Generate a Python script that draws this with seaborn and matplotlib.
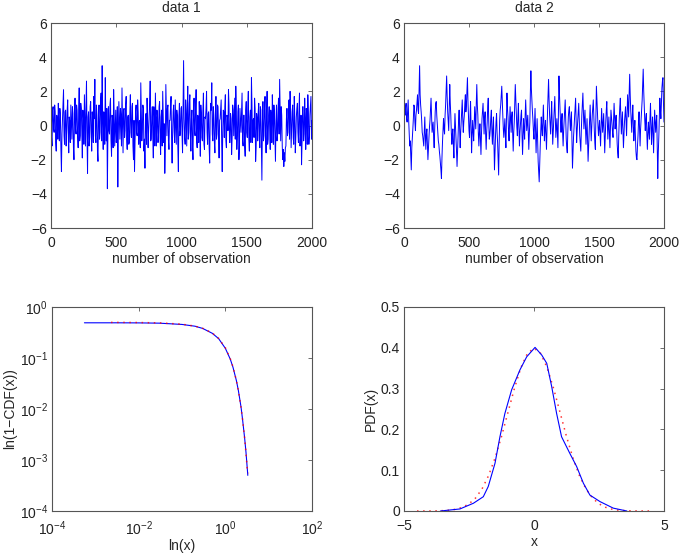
import numpy as np
import matplotlib
matplotlib.use("Agg")
import matplotlib.pyplot as plt
import seaborn as sns

data1 = [
    0.5, -1.2, 1.1, -0.4, 0.8, -1.5, 0.3, 1.3, -0.9, 0.6, -2.7, 0.4, 2.1, -1.1, 0.9, -0.3, 1.5, -1.6, 0.2, 1.2, -0.8, 0.7, -2.0, 1.6, -0.5,
    0.9, -1.3, 2.2, -0.6, 1.0, -1.9, 0.4, 1.8, -1.2, 2.6, -2.8, 0.8, -0.7, 1.4, -1.5, 0.3, 1.7, 2.7, -1.0, 0.6, -2.1, 1.2, -0.4, 1.9, 3.5,
    -1.4, 0.7, 2.8, -0.9, -3.7, 1.1, -0.5, 1.6, -1.8, 0.4, 2.1, -1.2, 0.9, -0.6, -3.6, 1.4, -0.8, 0.5, 2.2, -1.6, 1.0, -0.3, 1.7, -1.4, 0.6,
    -1.0, 1.8, -0.7, 1.3, -2.0, -2.7, 0.8, -0.4, 1.5, -1.1, 0.3, 2.5, -0.9, 1.2, -1.5, -2.5, 0.7, 1.6, -1.3, 0.4, 2.6, -0.8, 1.1, -1.9, 0.5,
    1.9, -1.2, 0.6, -0.5, 1.4, -1.7, 0.9, 2.0, -1.0, -2.8, 2.4, -0.6, 1.2, -1.4, 0.3, 1.7, -2.2, 0.8, -0.4, 1.5, -1.1, 0.6, -2.7, 1.3, -0.3,
    1.1, -1.6, 3.8, -0.7, 1.5, -1.2, 2.3, -0.4, 1.8, -1.5, 0.9, -2.0, 1.6, -0.6, 2.1, -1.3, 0.5, 1.4, -1.8, 0.7, -0.9, 1.9, -1.4, 0.4, 2.0,
    -1.1, 0.8, -2.2, 1.3, 2.5, -0.9, 0.6, -1.6, 1.7, -0.5, 1.1, -1.9, 0.4, 1.5, -2.7, 0.9, -0.7, 1.8, -1.3, 0.5, 2.1, -1.0, 0.7, -1.7, 1.2,
    -0.6, 1.6, 2.3, -1.4, 0.8, -2.0, 1.0, -0.4, 1.9, -1.2, 0.6, -1.8, 1.4, -0.7, 2.0, -1.5, 0.9, 2.8, -1.0, 0.4, 1.6, -2.1, 0.7, -0.9, 1.3,
    -1.3, 0.9, -3.2, 1.4, -0.6, 1.7, -1.6, 2.0, -0.8, 1.1, -1.4, 0.5, 1.8, -1.1, 0.7, -2.1, 1.2, -0.5, 1.6, 2.7, -0.9, 0.6, -2.0, -2.4, -2.1,
    -1.2, 1.0, -0.4, 1.5, 2.0, -1.3, 0.8, -0.7, 1.7, -1.6, 0.5, 1.3, -1.0, 1.9, -0.6, -2.3, 1.1, -0.9, 1.6, -1.4, 0.7, 1.8, -1.1, 0.6, 1.7,
    0.3,
]
# in-between observations (x = 4, 12, ..., 1996)
data1_mid = [
    -0.7, 0.9, -0.2, 1.2, -1.0, 0.6, -0.8, -0.1, 1.0, -1.4, -0.5, 1.3, -0.6, 0.8, -1.2, 0.9, -0.4, 0.5, -1.0, 0.1, 1.1, -1.3, 0.4, -0.2, 1.2,
    -0.6, 0.7, -0.9, 1.3, -0.3, 0.9, -1.1, 0.2, 1.0, -0.7, 0.5, -1.2, 1.1, -0.4, 0.8, -1.0, 0.4, -0.6, 1.2, -1.5, 0.6, -0.8, 1.4, -0.9, 0.3,
    0.8, -1.1, 0.2, 1.0, -0.6, -0.3, 1.2, -0.9, 0.6, -1.3, 0.7, -0.2, -1.0, 1.1, -0.5, 0.3, 1.0, -1.2, 0.4, 0.9, -0.7, 1.2, -0.8, 0.5, -1.1,
    0.6, -0.4, 1.1, -1.2, 0.3, -0.9, 1.2, -0.6, 0.8, 0.2, -1.3, 0.9, -0.2, 1.0, -0.8, 0.4, -1.1, 0.7, -0.3, 1.3, -0.9, 0.5, -0.6, 1.1, -1.2,
    0.2, 0.9, -1.0, 1.1, -0.7, 0.5, -1.2, 0.6, 0.1, -1.4, 0.8, 1.0, -0.9, 0.3, 1.1, -0.8, -0.4, 1.2, -1.0, 0.2, 0.9, -1.3, 0.5, -0.6, 1.0,
    -0.5, 1.2, 0.4, -1.1, 0.7, 0.9, -0.8, 1.3, -0.6, 0.4, -1.2, 0.8, -0.3, 1.1, -0.9, 0.6, -1.0, 0.3, 1.2, -0.7, 0.9, -1.1, 0.5, 1.0, -0.4,
    0.7, -1.3, 0.6, 0.9, -0.5, 1.1, -1.0, 0.4, -0.8, 1.2, -0.6, 0.3, 1.0, -1.1, -0.4, 0.8, 1.1, -0.9, 0.6, -0.3, 1.2, -1.0, 0.4, -0.7, 0.9,
    0.5, -0.8, 1.0, -0.6, 1.2, -1.1, 0.3, 0.8, -0.9, 0.6, -1.2, 0.9, -0.4, 1.1, -0.8, 0.5, -1.0, 1.2, 0.3, -0.7, 1.0, -1.3, 0.4, 0.8, -0.6,
    1.1, -1.2, 0.2, -0.9, 1.0, -0.4, 0.8, -1.1, 0.6, -0.3, 0.9, -1.0, 0.5, 1.2, -0.7, 0.3, -0.9, 1.0, -0.5, 0.8, 1.1, -1.2, -1.4, -1.6, -1.3,
    0.4, -0.6, 1.1, -0.8, 0.9, -0.3, 1.2, -1.1, 0.5, -0.7, 1.0, -0.4, 0.8, -1.2, 0.6, -0.9, 1.1, -0.5, 0.3, 1.0, -1.1, 0.7, -0.6, 1.2, -0.8,
]
data2 = [
    2.8, 0.6, 1.3, 0.2, 1.5, -0.5, -0.9, -2.6, -0.8, 0.4, 1.1, -0.3, 0.9, 1.8, 0.7, 3.5, 1.2, 0.3, -0.6, -1.2, 0.5, -1.4, -0.2, -2.0, -0.7,
    0.3, 1.6, -0.4, 0.2, -1.3, 0.8, 1.4, 0.1, -0.9, -1.5, -2.2, -3.1, -1.0, 0.4, -0.5, 1.2, 2.9, 0.8, -0.3, 2.4, 0.6, -1.1, -0.2, -1.9, 0.7,
    -0.8, -2.4, -0.6, 0.9, -1.3, 0.2, 1.5, -0.4, 0.6, 1.8, 1.2, 2.8, 0.5, -0.7, 1.4, -1.6, 0.3, -0.9, 1.1, -0.2, 2.4, 0.6, -1.2, 0.1, -1.7,
    0.4, 1.3, -0.5, 0.8, -1.4, 0.2, 1.6, -0.8, -0.2, 0.9, -1.1, 0.5, -2.6, -0.6, 0.7, -1.0, -2.9, 0.3, 1.2, 2.3, 0.6, -0.7, 0.4, -1.3, 1.9,
    0.5, -0.9, 1.1, -0.4, 0.8, -1.5, 0.2, 2.4, 0.7, -0.6, 1.3, -1.2, 0.1, 0.9, -1.7, 0.4, -0.8, 1.5, -0.3, 0.6, -1.4, 0.2, 3.2, 1.4, 0.3,
    -0.8, 1.0, -1.6, 0.4, -2.1, -3.3, -1.2, 0.5, -0.6, 1.2, -0.9, 0.3, -1.4, 0.8, 2.7, 0.6, -0.5, 1.4, -1.1, 0.2, 1.7, -0.7, 0.4, -1.3, 2.9,
    1.0, -0.4, 0.7, -1.2, 0.3, 1.5, -0.8, -1.6, 0.5, 1.1, -0.3, 0.8, -2.5, -0.7, 0.4, 1.6, -1.0, 0.2, 1.3, -0.6, -1.5, 0.6, 1.9, -0.2, 0.9,
    -1.1, 0.4, -2.1, -0.5, 1.2, -0.9, 0.6, 1.5, -0.3, -1.4, 2.3, 0.8, -0.6, 0.3, -1.2, 1.0, -0.4, 0.7, -1.6, 0.2, 1.4, -0.8, 0.5, -1.3, 0.9,
    0.1, -0.7, 1.3, -0.2, 0.6, -1.1, -1.9, 0.4, 1.6, -0.5, 0.8, -1.3, 0.2, 1.1, -0.6, 1.8, 0.5, 3.0, 0.9, -0.4, 1.2, -0.9, 0.3, -1.5, -2.0,
    -0.6, 0.8, -1.2, 0.4, 1.5, 3.3, 1.1, -0.3, 0.7, -1.4, 0.2, -0.8, 1.3, -1.1, 0.5, -1.6, 0.9, -0.4, 0.6, -3.1, -0.7, 1.6, 0.4, 2.2, 2.8,
    0.2,
]
data2_mid = [
    1.2, 1.0, 0.4, 0.9, 0.3, -1.2, -1.8, -1.3, -0.2, 1.2, 0.2, 0.6, 1.4, 0.9, 2.1, 1.8, 0.8, -0.4, -0.9, -0.4, -0.6, -0.5, -1.1, -1.3, -0.1,
    0.9, 0.5, -0.1, -0.7, -0.2, 1.3, 0.6, -0.5, -1.1, -1.8, -2.6, -1.9, -0.3, -0.2, 0.6, 2.0, 1.7, 0.2, 1.1, 1.3, -0.4, -0.5, -1.2, -0.4, 0.0,
    -1.5, -1.4, 0.3, -0.3, -0.4, 0.9, 0.4, 0.2, 1.3, 0.8, 2.0, 1.4, -0.3, 0.5, -0.2, -0.5, -0.4, 0.2, 0.4, 1.3, 1.2, -0.5, -0.4, -0.9, -0.5,
    0.9, 0.3, 0.4, -0.5, -0.4, 1.1, 0.2, -0.6, 0.5, -0.3, -0.2, -1.2, -1.5, 0.2, -0.4, -2.0, -1.1, 0.9, 1.8, 1.4, -0.2, -0.1, -0.6, 0.4, 1.0,
    -0.3, 0.2, 0.3, 0.5, -0.5, -0.4, 1.4, 1.5, -0.1, 0.5, -0.1, -0.4, 0.6, -0.6, -0.7, -0.3, 0.6, 0.5, 0.2, -0.5, -0.5, 1.9, 2.1, 0.8, -0.4,
    0.2, -0.4, -0.5, -0.9, -2.7, -2.2, -0.3, -0.2, 0.4, 0.1, -0.2, -0.6, -0.2, 1.8, 1.5, 0.1, 0.6, 0.1, -0.4, 1.0, 0.4, -0.1, -0.5, 0.9, 1.8,
    0.2, 0.3, -0.4, -0.3, 0.9, 0.4, -1.3, -0.4, 0.9, 0.4, 0.3, -0.9, -1.6, -0.1, 1.1, 0.2, -0.3, 0.8, 0.3, -1.1, -0.3, 1.3, 0.8, 0.4, -0.2,
    -0.3, -0.9, -1.3, 0.4, 0.1, -0.1, 1.1, 0.5, -1.0, 0.6, 1.5, 0.0, -0.1, -0.5, -0.1, 0.3, 0.2, -0.5, -0.6, 0.9, 0.3, -0.2, -0.5, -0.2, 0.5,
    -0.4, 0.4, 0.5, 0.3, -0.3, -1.6, -0.6, 1.1, 0.5, 0.2, -0.3, -0.5, 0.7, 0.2, 0.7, 1.1, 1.9, 1.8, 0.2, 0.5, 0.1, -0.2, -0.7, -1.9, -1.2,
    0.2, -0.3, -0.2, 0.9, 2.4, 2.0, 0.3, 0.4, -0.5, -0.5, -0.4, 0.4, 0.0, -0.2, -0.6, -0.2, 0.3, 0.2, -1.4, -1.6, 0.5, 0.9, 1.4, 2.6, 1.3,
]

# empirical tail 1-CDF (blue) and fitted (red dotted)
ccdf_x = [0.00056, 0.001, 0.003, 0.01, 0.03, 0.1, 0.2, 0.3, 0.5, 0.7, 1.0, 1.3, 1.5, 1.8, 2.0, 2.3, 2.5, 2.8, 3.0, 3.2, 3.3]
ccdf_y = [0.49, 0.49, 0.49, 0.488, 0.482, 0.455, 0.42, 0.38, 0.305, 0.24, 0.155, 0.095, 0.066, 0.036, 0.023, 0.011, 0.0062, 0.0026, 0.0014, 0.0007, 0.0005]
fit_x = [0.0023, 0.005, 0.01, 0.03, 0.1, 0.2, 0.3, 0.5, 0.7, 1.0, 1.3, 1.5, 1.8, 2.0, 2.3, 2.5, 2.8, 3.0, 3.2, 3.4]
fit_y = [0.499, 0.498, 0.496, 0.488, 0.46, 0.421, 0.382, 0.309, 0.242, 0.159, 0.097, 0.067, 0.036, 0.0228, 0.0107, 0.0062, 0.0026, 0.00135, 0.00069, 0.00055]

# pdf: kernel estimate (blue) and normal fit (red dotted)
pdf_x = [-3.6, -2.85, -2.33, -1.95, -1.76, -1.5, -1.31, -1.12, -0.86, -0.54, -0.28, 0.04,
         0.30, 0.49, 0.68, 0.87, 1.06, 1.38, 1.64, 1.90, 2.15, 2.54, 3.05, 3.57]
pdf_y = [0.0, 0.005, 0.019, 0.035, 0.06, 0.117, 0.182, 0.239, 0.297, 0.346, 0.378, 0.401,
         0.382, 0.362, 0.305, 0.239, 0.182, 0.141, 0.109, 0.068, 0.039, 0.023, 0.007, 0.0]
norm_x = [-4.5, -4.25, -4.0, -3.75, -3.5, -3.25, -3.0, -2.75, -2.5, -2.25, -2.0, -1.75, -1.5, -1.25, -1.0, -0.75, -0.5, -0.25,
          0.0, 0.25, 0.5, 0.75, 1.0, 1.25, 1.5, 1.75, 2.0, 2.25, 2.5, 2.75, 3.0, 3.25, 3.5, 3.75, 4.0, 4.25, 4.5]
norm_y = [0.00002, 0.00005, 0.00013, 0.00035, 0.00087, 0.002, 0.0044, 0.0091, 0.0175, 0.0317, 0.054, 0.0863, 0.1295, 0.1826, 0.242, 0.3011, 0.3521, 0.3867,
          0.3989, 0.3867, 0.3521, 0.3011, 0.242, 0.1826, 0.1295, 0.0863, 0.054, 0.0317, 0.0175, 0.0091, 0.0044, 0.002, 0.00087, 0.00035, 0.00013, 0.00005, 0.00002]


def interleave(a, b):
    out = []
    for i in range(len(b)):
        out += [a[i], b[i]]
    out.append(a[-1])
    return out


series1 = interleave(data1, data1_mid)
series2 = interleave(data2, data2_mid)
obs = np.arange(0, 2001, 4)

sns.set_style("white")
plt.rcParams['font.family'] = ['Liberation Sans', 'DejaVu Sans']
plt.rcParams['font.size'] = 10
plt.rcParams['axes.edgecolor'] = '#555555'
plt.rcParams['axes.linewidth'] = 0.8
plt.rcParams['mathtext.default'] = 'regular'

fig = plt.figure(figsize=(6.81, 5.54), dpi=100)
ax1 = fig.add_axes([51/681, 1-228/554, 261/681, 205/554])
ax2 = fig.add_axes([404/681, 1-228/554, 260/681, 205/554])
ax3 = fig.add_axes([52/681, 1-511/554, 260/681, 204/554])
ax4 = fig.add_axes([404/681, 1-511/554, 260/681, 204/554])

blue = '#0000ff'
red = '#ff0000'

for ax, series, title in [(ax1, series1, 'data 1'), (ax2, series2, 'data 2')]:
    sns.lineplot(x=obs, y=series, ax=ax, color=blue, lw=0.7)
    ax.set_xlim(0, 2000)
    ax.set_ylim(-6, 6)
    ax.set_xticks([0, 500, 1000, 1500, 2000])
    ax.set_yticks([-6, -4, -2, 0, 2, 4, 6])
    ax.set_title(title, fontsize=10, pad=8)
    ax.set_xlabel('number of observation', labelpad=1)

sns.lineplot(x=ccdf_x, y=ccdf_y, ax=ax3, color=blue, lw=0.8)
sns.lineplot(x=fit_x, y=fit_y, ax=ax3, color=red, lw=1.1, alpha=0.8, linestyle=(0, (1, 3)))
ax3.set_xscale('log')
ax3.set_yscale('log')
ax3.set_xlim(1e-4, 1e2)
ax3.set_ylim(1e-4, 1e0)
ax3.set_xticks([1e-4, 1e-2, 1e0, 1e2])
ax3.set_yticks([1e-4, 1e-3, 1e-2, 1e-1, 1e0])
ax3.minorticks_off()
ax3.set_xlabel('ln(x)', labelpad=1)
ax3.set_ylabel('ln(1\u2212CDF(x))', labelpad=2)

sns.lineplot(x=norm_x, y=norm_y, ax=ax4, color=red, lw=1.1, alpha=0.8, linestyle=(0, (1, 3)))
sns.lineplot(x=pdf_x, y=pdf_y, ax=ax4, color=blue, lw=0.8)
ax4.set_xlim(-5, 5)
ax4.set_ylim(0, 0.5)
ax4.set_xticks([-5, 0, 5])
ax4.set_yticks([0, 0.1, 0.2, 0.3, 0.4, 0.5])
ax4.set_yticklabels(['0', '0.1', '0.2', '0.3', '0.4', '0.5'])
ax4.set_xlabel('x', labelpad=1)
ax4.set_ylabel('PDF(x)', labelpad=2)

for ax in [ax1, ax2, ax3, ax4]:
    ax.tick_params(direction='in', length=3, width=0.6, color='#555555', labelcolor='#222222',
                   top=True, right=True, labelsize=10)
    ax.tick_params(axis='x', pad=6)
    ax.tick_params(axis='y', pad=3)
    for s in ax.spines.values():
        s.set_visible(True)

fig.savefig('out.png', dpi=100)
